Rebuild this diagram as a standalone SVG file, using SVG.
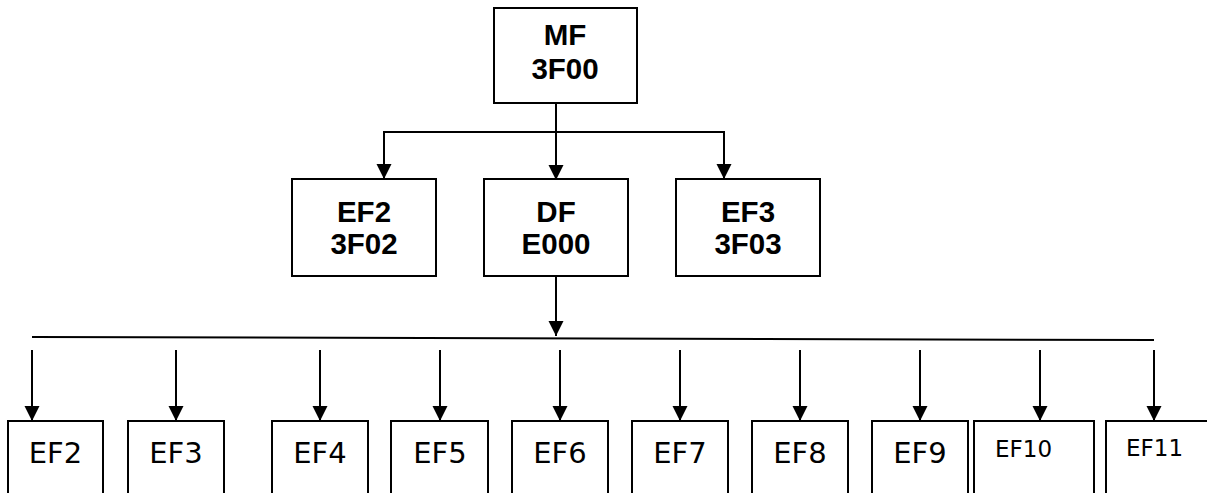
<svg xmlns="http://www.w3.org/2000/svg" width="1207" height="493" viewBox="0 0 1207 493">
<style>
.box{fill:#fff;stroke:#000;stroke-width:2}
.hd{font-family:"Liberation Sans",Arial,sans-serif;font-weight:bold;font-size:29.5px;text-anchor:middle;fill:#000}
.lb{font-family:"DejaVu Sans",Verdana,sans-serif;font-size:29px;text-anchor:middle;fill:#000}
.sm{font-family:"DejaVu Sans",Verdana,sans-serif;font-size:23px;fill:#000}
.ln{fill:none;stroke:#000;stroke-width:2}
.ar{fill:none;stroke:#000;stroke-width:2;marker-end:url(#ah)}
</style>
<defs>
<marker id="ah" markerUnits="userSpaceOnUse" markerWidth="15" markerHeight="16" refX="15" refY="8" orient="auto">
<path d="M0,0.5 L15,8 L0,15.5 z" fill="#000"/>
</marker>
</defs>
<rect width="1207" height="493" fill="#fff"/>
<g id="connectors">
<line class="ar" x1="556" y1="103" x2="556" y2="180"/>
<line class="ln" x1="384" y1="132" x2="724" y2="132"/>
<line class="ar" x1="384" y1="131" x2="384" y2="179"/>
<line class="ar" x1="724" y1="131" x2="724" y2="179"/>
<line class="ar" x1="556" y1="276" x2="556" y2="336"/>
<line class="ln" x1="32" y1="337" x2="1154" y2="340"/>
<line class="ar" x1="32" y1="350" x2="32" y2="421"/>
<line class="ar" x1="176" y1="350" x2="176" y2="421"/>
<line class="ar" x1="320" y1="350" x2="320" y2="421"/>
<line class="ar" x1="440" y1="350" x2="440" y2="421"/>
<line class="ar" x1="560" y1="350" x2="560" y2="421"/>
<line class="ar" x1="680" y1="350" x2="680" y2="421"/>
<line class="ar" x1="800" y1="350" x2="800" y2="421"/>
<line class="ar" x1="920" y1="350" x2="920" y2="421"/>
<line class="ar" x1="1040" y1="350" x2="1040" y2="421"/>
<line class="ar" x1="1154" y1="350" x2="1154" y2="421"/>
</g>
<g id="MF"><rect class="box" x="494" y="8" width="143" height="95"/><text class="hd" x="565" y="45">MF</text><text class="hd" x="565" y="79">3F00</text></g>
<g id="EF2top"><rect class="box" x="292" y="179" width="144" height="97"/><text class="hd" x="364" y="222">EF2</text><text class="hd" x="364" y="254">3F02</text></g>
<g id="DF"><rect class="box" x="484" y="179" width="144" height="97"/><text class="hd" x="556" y="222">DF</text><text class="hd" x="556" y="254">E000</text></g>
<g id="EF3top"><rect class="box" x="676" y="179" width="144" height="97"/><text class="hd" x="748" y="222">EF3</text><text class="hd" x="748" y="254">3F03</text></g>
<g id="EF2"><rect class="box" x="8" y="421" width="95" height="90"/><text class="lb" x="55.5" y="463">EF2</text></g>
<g id="EF3"><rect class="box" x="128" y="421" width="96" height="90"/><text class="lb" x="176" y="463">EF3</text></g>
<g id="EF4"><rect class="box" x="272" y="421" width="96" height="90"/><text class="lb" x="320" y="463">EF4</text></g>
<g id="EF5"><rect class="box" x="391" y="421" width="97" height="90"/><text class="lb" x="440" y="463">EF5</text></g>
<g id="EF6"><rect class="box" x="512" y="421" width="96" height="90"/><text class="lb" x="560" y="463">EF6</text></g>
<g id="EF7"><rect class="box" x="632" y="421" width="96" height="90"/><text class="lb" x="680" y="463">EF7</text></g>
<g id="EF8"><rect class="box" x="752" y="421" width="96" height="90"/><text class="lb" x="800" y="463">EF8</text></g>
<g id="EF9"><rect class="box" x="872" y="421" width="96" height="90"/><text class="lb" x="920" y="463">EF9</text></g>
<g id="EF10"><rect class="box" x="974" y="421" width="120" height="90"/><text class="sm" x="995" y="457">EF10</text></g>
<g id="EF11"><rect class="box" x="1106" y="421" width="120" height="90"/><text class="sm" x="1126" y="456">EF11</text></g>
</svg>
